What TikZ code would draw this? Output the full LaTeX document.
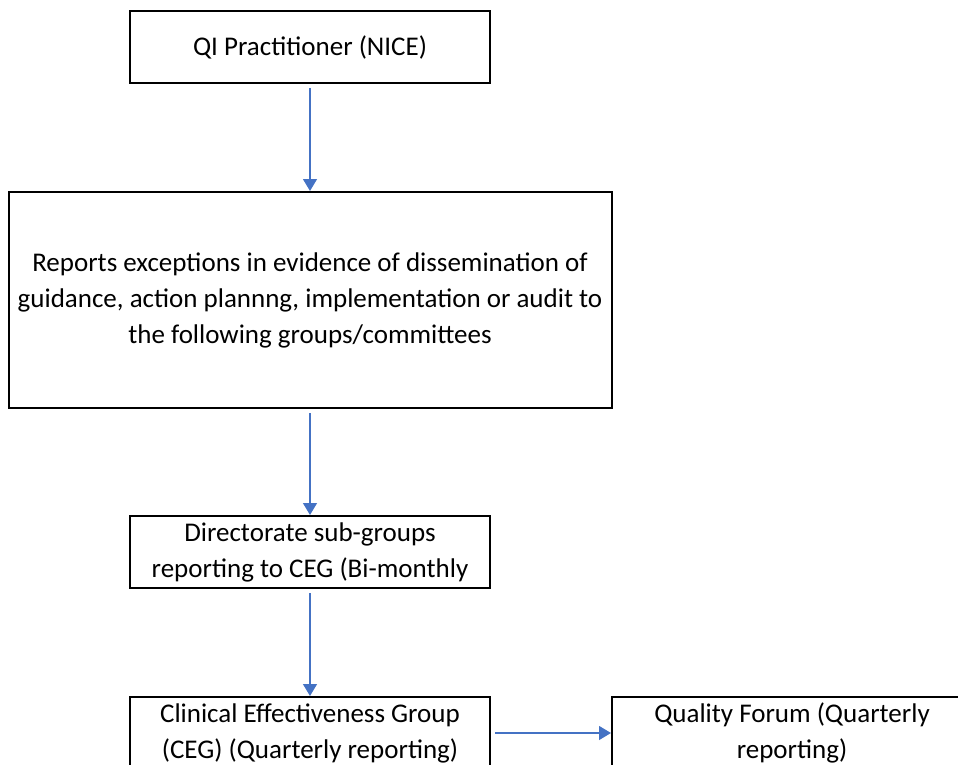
\documentclass[tikz,border=0pt]{standalone}
\usepackage{fontspec}
\setmainfont{Carlito}
\usepackage{xcolor}
\usepackage{tikz}
\usetikzlibrary{arrows.meta, positioning}
\definecolor{officeblue}{RGB}{68,114,196}
\tikzset{
    box/.style={
        rectangle,
        draw=black,
        line width=1pt,
        fill=white,
        minimum width=180pt,
        minimum height=36pt,
        inner sep=0pt,
        align=center,
        font=\fontsize{13.5pt}{18pt}\selectfont
    },
    bigbox/.style={
        box,
        minimum width=301.5pt,
        minimum height=108pt
    },
    line/.style={
        draw,
        -{Triangle[width=7pt,length=6pt]},
        line width=0.6pt,
        color=officeblue,
        shorten <=2pt
    }
}

\begin{document}
\begin{tikzpicture}[node distance=53pt]

    \useasboundingbox (0,0) rectangle (479pt,-382.5pt);
    \clip (0,0) rectangle (479pt,-382.5pt);

    % Practitioner
    \node (qi) [box] at (155pt,-23.5pt) {QI Practitioner (NICE)};

    % Exception reports
    \node (reports) [bigbox, below=53.5pt of qi] {
        Reports exceptions in evidence of dissemination of\\
        guidance, action plannng, implementation or audit to\\
        the following groups/committees
    };

    % Sub-groups
    \node (subgroups) [box, below=53pt of reports] {
        Directorate sub-groups\\
        reporting to CEG (Bi-monthly
    };

    % CEG
    \node (ceg) [box, below=53.5pt of subgroups] {
        Clinical Effectiveness Group\\
        (CEG) (Quarterly reporting)
    };

    % Quality Forum
    \node (forum) [box, right=60pt of ceg] {
        Quality Forum (Quarterly\\
        reporting)
    };

    % Connections
    \draw [line] (qi) -- (reports);
    \draw [line] (reports) -- (subgroups);
    \draw [line] (subgroups) -- (ceg);
    \draw [line] (ceg) -- (forum);

\end{tikzpicture}
\end{document}
